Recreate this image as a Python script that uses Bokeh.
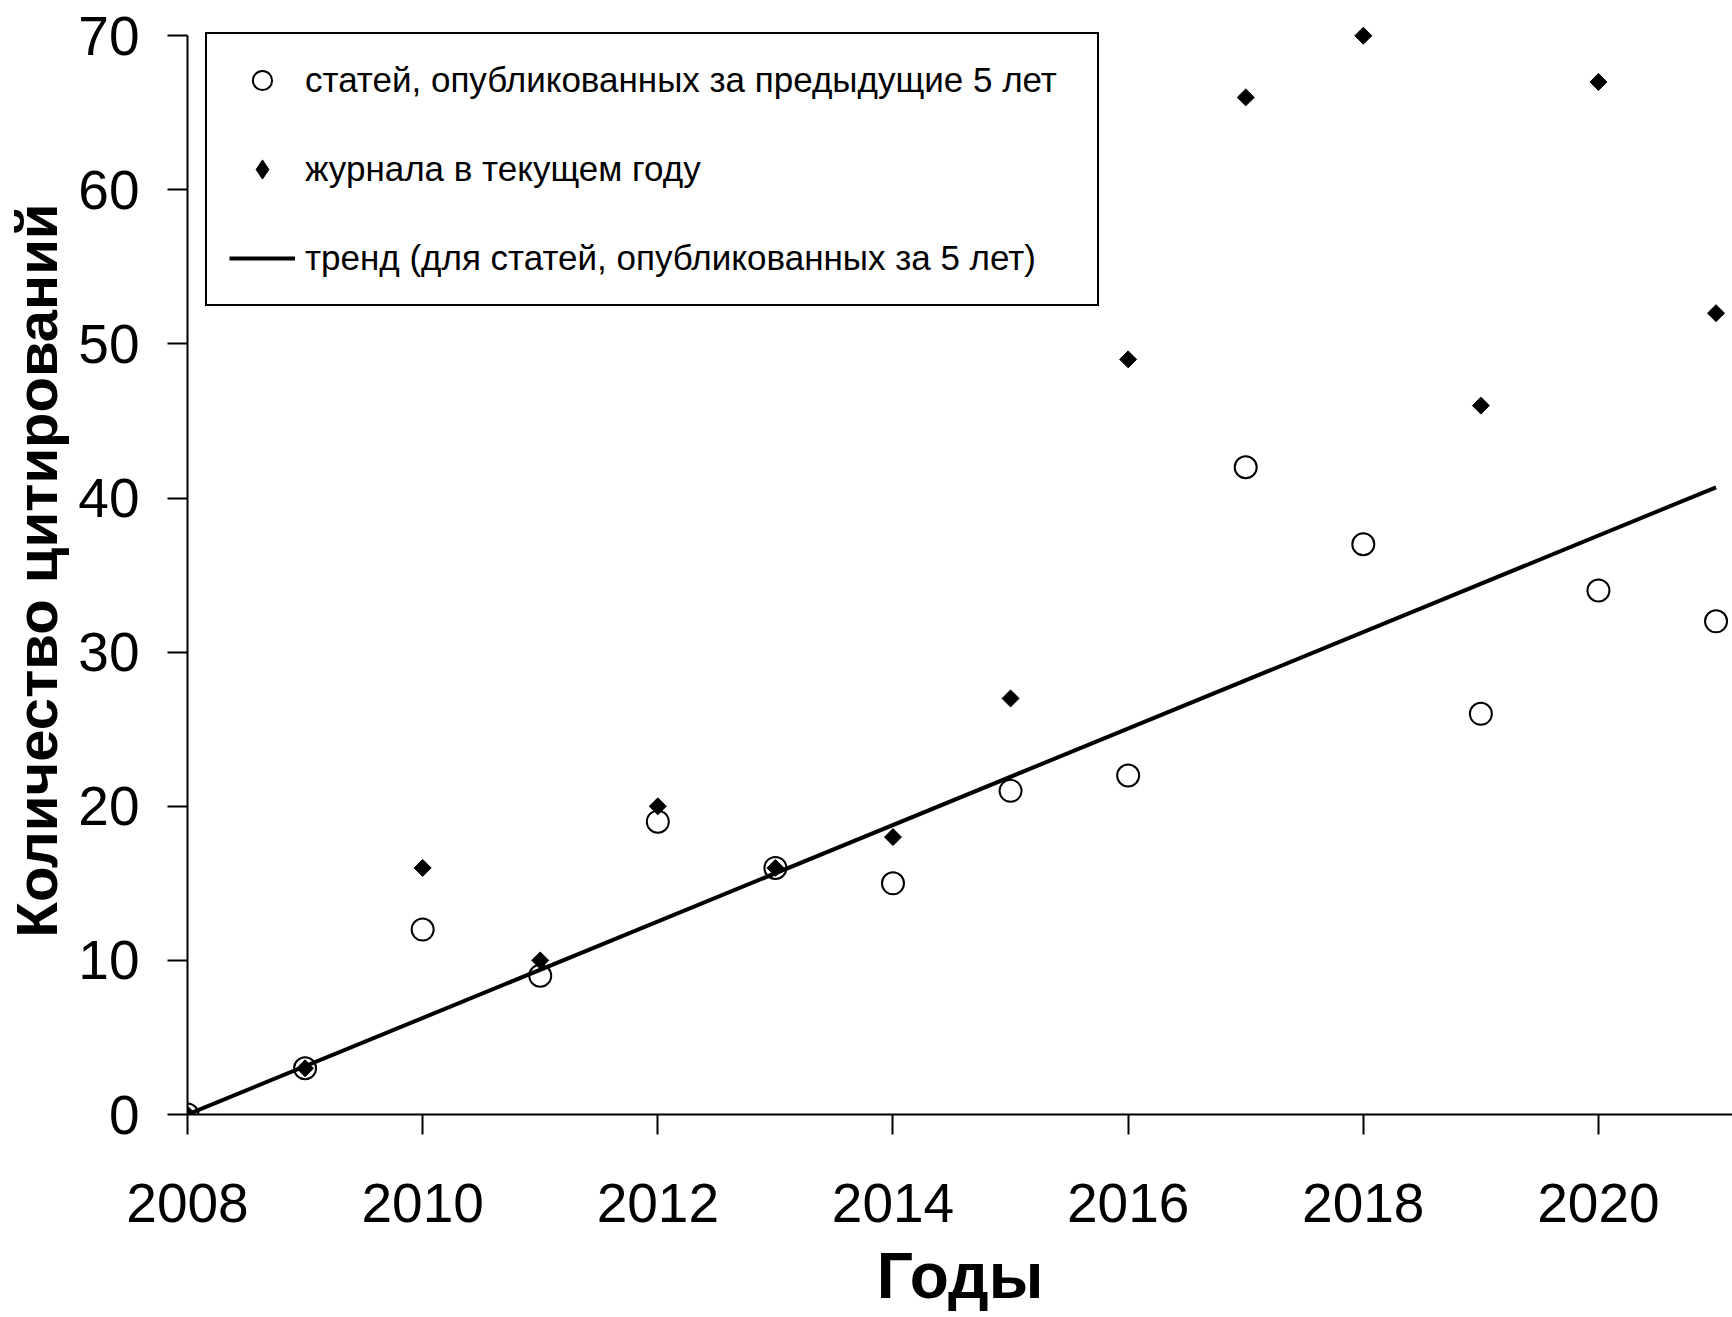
from bokeh.plotting import figure
from bokeh.models import Range1d, Legend, LegendItem, FixedTicker
from bokeh.embed import file_html
from bokeh.resources import INLINE

# ---- data ----
years = [2008, 2009, 2010, 2011, 2012, 2013, 2014, 2015, 2016, 2017, 2018, 2019, 2020, 2021]
citations_5yr = [0, 3, 12, 9, 19, 16, 15, 21, 22, 42, 37, 26, 34, 32]
citations_current = [0, 3, 16, 10, 20, 16, 18, 27, 49, 66, 70, 46, 67, 52]
trend_years = [2008, 2021]
trend_values = [0, 40.7]
x_tick_values = [2008, 2010, 2012, 2014, 2016, 2018, 2020]
y_tick_values = [0, 10, 20, 30, 40, 50, 60, 70]

label_5yr = "статей, опубликованных за предыдущие 5 лет"
label_current = "журнала в текущем году"
label_trend = "тренд (для статей, опубликованных за 5 лет)"
x_title = "Годы"
y_title = "Количество цитирований"

FONT = "Liberation Sans"

p = figure(
    width=1732, height=1317,
    x_range=Range1d(2008, 2021.14),
    y_range=Range1d(0, 70.6),
    output_backend="svg", toolbar_location=None,
    min_border_left=187, min_border_right=0,
    min_border_top=26, min_border_bottom=203,
)
p.outline_line_color = None
p.xgrid.visible = False
p.ygrid.visible = False
p.background_fill_color = "white"
p.border_fill_color = "white"

trend = p.line(trend_years, trend_values, line_color="black", line_width=4)
circ = p.scatter(years, citations_5yr, marker="circle", size=22,
                 fill_alpha=0, line_color="black", line_width=2)
diam = p.scatter(years, citations_current, marker="square", size=12, angle=45,
                 angle_units="deg", fill_color="black", line_color="black", line_width=1)
# legend swatch for the same series (legend swatches are never rotated)
diam_key = p.scatter(years, citations_current, marker="diamond", fill_color="black",
                     line_color="black", line_width=1, visible=False)

for ax in (p.xaxis[0], p.yaxis[0]):
    ax.axis_line_width = 2
    ax.axis_line_color = "black"
    ax.major_tick_line_width = 2
    ax.major_tick_line_color = "black"
    ax.major_tick_out = 20
    ax.major_tick_in = 0
    ax.minor_tick_line_color = None
    ax.major_label_text_font = FONT
    ax.major_label_text_font_size = "55px"
    ax.major_label_text_color = "black"
    ax.axis_label_text_font = FONT
    ax.axis_label_text_font_style = "bold"
    ax.axis_label_text_color = "black"

xa = p.xaxis[0]
xa.ticker = FixedTicker(ticks=x_tick_values)
xa.major_label_standoff = 49
xa.axis_label = x_title
xa.axis_label_text_font_size = "64px"
xa.axis_label_standoff = 15

ya = p.yaxis[0]
ya.ticker = FixedTicker(ticks=y_tick_values)
ya.bounds = (0, 70)
ya.major_label_standoff = 28
ya.axis_label = y_title
ya.axis_label_text_font_size = "58px"
ya.axis_label_standoff = 6

legend = Legend(
    items=[
        LegendItem(label=label_5yr, renderers=[circ]),
        LegendItem(label=label_current, renderers=[diam_key]),
        LegendItem(label=label_trend, renderers=[trend]),
    ],
    location=(18, 808),
    label_text_font=FONT,
    label_text_font_size="35px",
    label_text_color="black",
    border_line_color="black",
    border_line_alpha=1,
    border_line_width=2,
    background_fill_color="white",
    background_fill_alpha=1,
    inactive_fill_alpha=0,
    padding=22,
    spacing=41,
    glyph_width=66,
    glyph_height=48,
    label_height=48,
    label_width=770,
    label_standoff=10,
    margin=0,
)
p.add_layout(legend)

open("out.html", "w").write(file_html(p, INLINE))
